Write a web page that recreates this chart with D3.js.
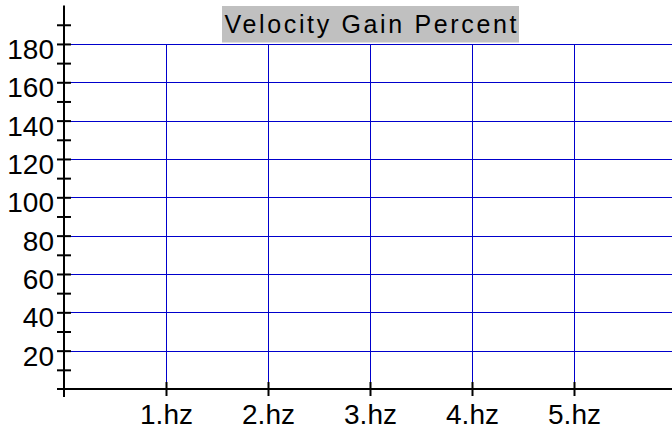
<!DOCTYPE html>
<html>
<head>
<meta charset="utf-8">
<style>
  body { margin: 0; background: #fff; }
  svg { display: block; font-family: "Liberation Sans", Arial, sans-serif; }
</style>
</head>
<body>
<svg width="672" height="431"></svg>
<script src="https://d3js.org/d3.v7.min.js"></script>
<script>

var title = "Velocity Gain Percent";
var xTicks = [1, 2, 3, 4, 5];
var xTickLabels = ["1.hz", "2.hz", "3.hz", "4.hz", "5.hz"];
var yLabelTicks = [20, 40, 60, 80, 100, 120, 140, 160, 180];
var yMinorTicks = [10, 20, 30, 40, 50, 60, 70, 80, 90, 100, 110, 120, 130, 140, 150, 160, 170, 180, 190];

var W = 672, H = 431;
var svg = d3.select("svg");
var x = d3.scaleLinear().domain([0, 6]).range([64, 676]);
var y = d3.scaleLinear().domain([0, 200]).range([389, 5.6]);
var crisp = function(v) { return Math.round(v) + 0.5; };
var gridColor = "#0000cc";

// grid: horizontal at labelled values, vertical at x ticks
var grid = svg.append("g").attr("class", "grid");
grid.selectAll("line.h")
  .data(yLabelTicks)
  .enter().append("line")
    .attr("class", "h")
    .attr("x1", crisp(x(0))).attr("x2", W)
    .attr("y1", (d) => crisp(y(d))).attr("y2", (d) => crisp(y(d)))
    .attr("stroke", gridColor).attr("stroke-width", 1);
grid.selectAll("line.v")
  .data(xTicks)
  .enter().append("line")
    .attr("class", "v")
    .attr("x1", (d) => crisp(x(d))).attr("x2", (d) => crisp(x(d)))
    .attr("y1", crisp(y(180))).attr("y2", y(0))
    .attr("stroke", gridColor).attr("stroke-width", 1);

// y axis, ticks crossing the line on both sides
var yAxis = svg.append("g")
    .attr("transform", "translate(" + x(0) + ",0)")
    .call(d3.axisLeft(y).tickValues(yMinorTicks).tickSizeOuter(0)
      .tickFormat((d) => yLabelTicks.indexOf(d) >= 0 ? d : ""));
yAxis.select(".domain").remove();
yAxis.selectAll(".tick line")
    .attr("x1", -7).attr("x2", 7).attr("stroke", "#000").attr("stroke-width", 2);
yAxis.selectAll(".tick text")
    .attr("x", -10).attr("dy", 14.5)
    .attr("font-size", 28).attr("fill", "#000")
    .attr("font-family", "Liberation Sans, Arial, sans-serif");
svg.append("line")
    .attr("x1", x(0)).attr("x2", x(0))
    .attr("y1", y(200)).attr("y2", y(0) + 8)
    .attr("stroke", "#000").attr("stroke-width", 2);

// x axis
var xAxis = svg.append("g")
    .attr("transform", "translate(0," + y(0) + ")")
    .call(d3.axisBottom(x).tickValues(xTicks).tickSizeOuter(0)
      .tickFormat((d, i) => xTickLabels[i]));
xAxis.select(".domain").remove();
xAxis.selectAll(".tick line")
    .attr("y1", -7).attr("y2", 7).attr("stroke", "#000").attr("stroke-width", 2);
xAxis.selectAll(".tick text")
    .attr("y", 34.5).attr("dy", 0)
    .attr("font-size", 28).attr("fill", "#000")
    .attr("font-family", "Liberation Sans, Arial, sans-serif");
svg.append("line")
    .attr("x1", x(0) - 7).attr("x2", W)
    .attr("y1", y(0)).attr("y2", y(0))
    .attr("stroke", "#000").attr("stroke-width", 2);

// title with grey box
svg.append("rect")
    .attr("x", 222).attr("y", 6)
    .attr("width", 297).attr("height", 36.5)
    .attr("fill", "#c0c0c0");
svg.append("text")
    .attr("x", 224.5).attr("y", 32.5)
    .attr("font-size", 25)
    .attr("textLength", 292).attr("lengthAdjust", "spacing")
    .attr("fill", "#000")
    .text(title);

</script>
</body>
</html>
